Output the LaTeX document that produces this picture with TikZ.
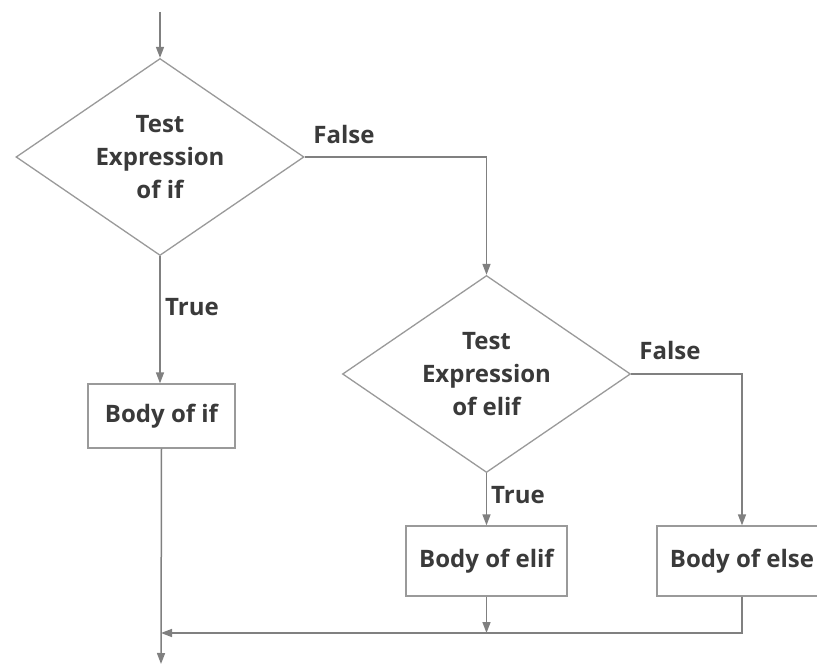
\documentclass[tikz,border=0pt]{standalone}
\usepackage{fontspec}
\setmainfont{Open Sans}
\usetikzlibrary{shapes.geometric,arrows.meta}
\definecolor{linegray}{HTML}{808080}
\definecolor{boxgray}{HTML}{9A9A9A}
\definecolor{txtgray}{HTML}{3A3A3A}
\begin{document}
\begin{tikzpicture}[x=1pt,y=-1pt,
  every node/.style={font=\fontsize{24}{33}\selectfont\bfseries, text=txtgray},
  decision/.style={draw=boxgray, line width=1.3pt, diamond, aspect=1.47, inner sep=0pt,
     minimum width=288pt, minimum height=197pt, align=center, fill=white},
  bodybox/.style={draw=boxgray, line width=1.3pt, rectangle, inner sep=0pt, fill=white},
  conn/.style={draw=linegray, line width=1.5pt},
  arr/.style={conn, -{Triangle[length=11pt,width=8pt]}}]
\path[use as bounding box, clip] (0,0) rectangle (817,668);
\fill[white] (0,0) rectangle (817,668);
\node[decision] (d1) at (160,157) {Test\\Expression\\of if};
\node[decision] (d2) at (486.5,374) {Test\\Expression\\of elif};
\node[bodybox, minimum width=147pt, minimum height=64pt] (b1) at (161.5,416) {Body of if};
\node[bodybox, minimum width=161pt, minimum height=70pt] (b2) at (486.5,561) {Body of elif};
\node[bodybox, minimum width=170pt, minimum height=70pt] (b3) at (742,561) {Body of else};
\coordinate (start) at (160,12);
\coordinate (merge) at (161,633);
\coordinate (finish) at (161,664);
\draw[arr] (start) -- (d1.north);
\draw[arr] (d1.south) -- (d1.south |- b1.north);
\draw[arr] (d1.east) -| (d2.north);
\draw[arr] (d2.south) -- (b2.north);
\draw[arr] (d2.east) -| (b3.north);
\draw[arr] (b3.south) |- (merge);
\draw[arr] (b2.south) -- (b2.south |- merge);
\draw[arr] (b1.south) -- (finish);
\node (f1) at (344,135) {False};
\node (t1) at (192,307) {True};
\node (f2) at (670,351) {False};
\node (t2) at (518,495) {True};
\end{tikzpicture}
\end{document}
